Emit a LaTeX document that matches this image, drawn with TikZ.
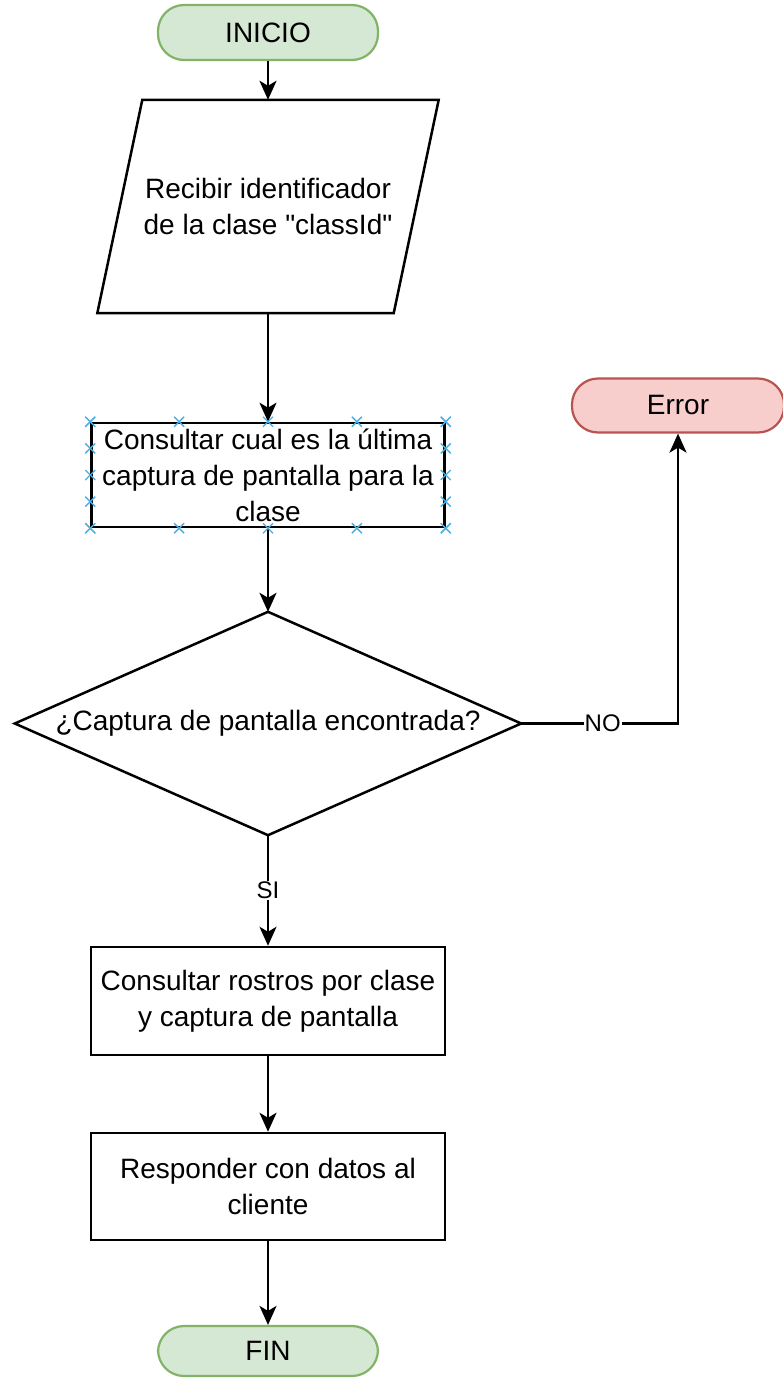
\documentclass[tikz,border=0pt]{standalone}
\usepackage{fontspec}
\setmainfont{Liberation Sans}[Ligatures=TeXOff]
\usetikzlibrary{arrows.meta,calc}
\definecolor{termgreenfill}{HTML}{D5E8D4}
\definecolor{termgreenline}{HTML}{82B366}
\definecolor{termredfill}{HTML}{F8CECC}
\definecolor{termredline}{HTML}{B85450}
\definecolor{handleblue}{HTML}{4AAEE3}
\begin{document}
\begin{tikzpicture}[x=1pt,y=-1pt,
  txt/.style={font=\fontsize{28}{36}\selectfont, align=center, inner sep=0pt, text=black},
  term/.style={txt, draw, line width=2.2pt, rounded corners=26pt},
  boxstyle/.style={txt, draw, line width=2.5pt},
  ghost/.style={txt, draw=none},
  outline/.style={line width=2.5pt, line join=miter},
  arr/.style={line width=2.5pt, -{Stealth[length=19pt,width=17pt,inset=5pt]}},
  lbl/.style={font=\fontsize{24}{28}\selectfont, fill=white, inner sep=1pt},
  handle/.style={handleblue, line width=1.3pt}
]
\useasboundingbox (0,0) rectangle (783,1378);

\node[term, fill=termgreenfill, draw=termgreenline, minimum width=220pt, minimum height=55pt] (ini) at (268,32.5) {INICIO};

\node[ghost, minimum width=341pt, minimum height=213pt] (par) at (268,206.5) {Recibir identificador\\de la clase "classId"};
\draw[outline] ($(par.north west)+(45,0)$) -- (par.north east) -- ($(par.south east)+(-45,0)$) -- (par.south west) -- cycle;

\node[boxstyle, minimum width=353pt, minimum height=104pt] (r1) at (268,475) {Consultar cual es la última\\captura de pantalla para la\\clase};

\node[ghost, minimum width=506pt, minimum height=223pt] (dec) at (268,723.5) {¿Captura de pantalla encontrada?};
\draw[outline] (dec.north) -- (dec.east) -- (dec.south) -- (dec.west) -- cycle;

\node[term, fill=termredfill, draw=termredline, minimum width=212pt, minimum height=54pt] (err) at (678,405.5) {Error};

\node[boxstyle, minimum width=354pt, minimum height=108pt] (r2) at (268,1001) {Consultar rostros por clase\\y captura de pantalla};

\node[boxstyle, minimum width=354pt, minimum height=107pt] (r3) at (268,1186.5) {Responder con datos al\\cliente};

\node[term, fill=termgreenfill, draw=termgreenline, minimum width=220pt, minimum height=50pt] (fin) at (268,1351) {FIN};

% connectors
\draw[arr] (ini.south) -- (par.north);
\draw[arr] (par.south) -- (r1.north);
\draw[arr] (r1.south) -- (dec.north);
\draw[arr] (dec.south) -- node[lbl] {SI} (r2.north);
\draw[arr] (dec.east) -| node[lbl, pos=0.26] {NO} (err.south);
\draw[arr] (r2.south) -- (r3.north);
\draw[arr] (r3.south) -- (fin.north);

% selection handles around r1
\foreach \f in {0,0.25,0.5,0.75,1}{
  \draw[handle] ($(r1.north west)!\f!(r1.north east)$) +(-5,-5) -- +(5,5) +(-5,5) -- +(5,-5);
  \draw[handle] ($(r1.south west)!\f!(r1.south east)$) +(-5,-5) -- +(5,5) +(-5,5) -- +(5,-5);
  \draw[handle] ($(r1.north west)!\f!(r1.south west)$) +(-5,-5) -- +(5,5) +(-5,5) -- +(5,-5);
  \draw[handle] ($(r1.north east)!\f!(r1.south east)$) +(-5,-5) -- +(5,5) +(-5,5) -- +(5,-5);
}
\end{tikzpicture}
\end{document}
